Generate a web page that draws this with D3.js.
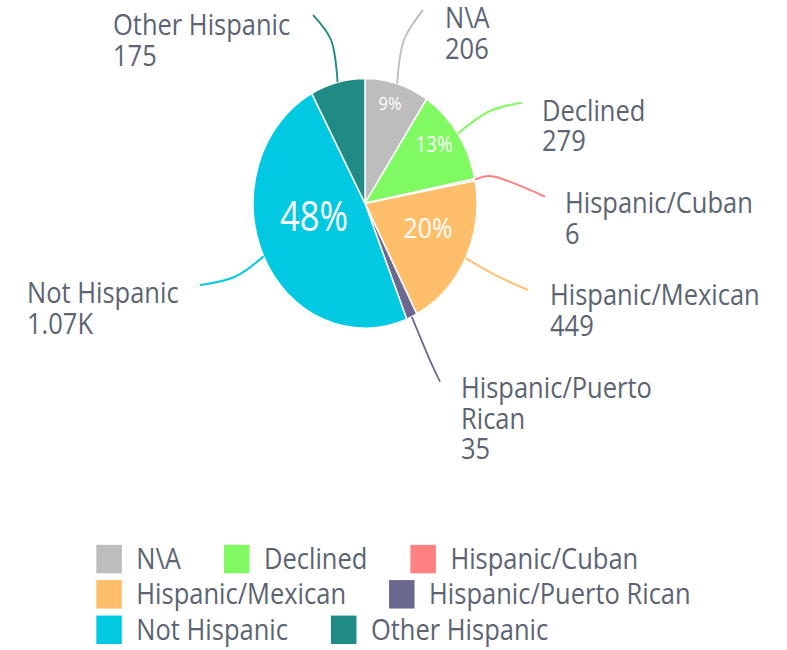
<!DOCTYPE html>
<html>
<head>
<meta charset="utf-8">
<script src="https://cdn.jsdelivr.net/npm/d3@7"></script>
<style>
  html, body { margin: 0; padding: 0; background: #ffffff; }
  svg { display: block; }
  text { font-family: "Open Sans", "Noto Sans", sans-serif; }
</style>
</head>
<body>
<svg id="chart" width="787" height="650"></svg>
<script>
// ---- data ----
const categories = ["N\\A", "Declined", "Hispanic/Cuban", "Hispanic/Mexican", "Hispanic/Puerto Rican", "Not Hispanic", "Other Hispanic"];
const values = [206, 279, 6, 449, 35, 1070, 175];
const valueLabels = ["206", "279", "6", "449", "35", "1.07K", "175"];
const colors = ["#bdbdbd", "#80fa62", "#ff8080", "#ffbe6a", "#6b6890", "#00c9e1", "#208a85"];

// ---- layout constants (unstretched coordinates) ----
const W = 787, H = 650;
const SY = 650 / 582.5;            // vertical stretch of the reference
const cx = 365, cy = 182.2, R = 112;
const textColor = "#5b6470";
const labelFont = 25.5;
const lineH = 27.5;

// outside label placement: left x, first baseline, knee, end
const outLayout = [
  { x: 445, y: 25.1,  knee: [404, 35.8],  end: [423, 9] },
  { x: 542, y: 108.2, knee: [490, 99.5],  end: [521.7, 92] },
  { x: 565, y: 190.9, knee: [490, 157.7], end: [545, 176.3] },
  { x: 550, y: 273.3, knee: [495, 246.4], end: [528, 259.9] },
  { x: 461, y: 356.6, knee: [432, 327],   end: [440, 342] },
  { x: 27,  y: 271.8, knee: [235, 248],   end: [200, 255.4] },
  { x: 113, y: 31.4,  knee: [331, 35.8],  end: [313, 13.4] }
];
// inside percent labels: offset from centre, font size, width
const pctLayout = {
  0: { dx: 25, dy: -89, fs: 16, w: 23 },
  1: { dx: 69, dy: -53.2, fs: 20, w: 37 },
  3: { dx: 63, dy: 22.1, fs: 25, w: 49 },
  5: { dx: -51, dy: 11.3, fs: 37, w: 68 }
};

const svg = d3.select("#chart");
const root = svg.append("g").attr("transform", `scale(1,${SY})`);

const total = d3.sum(values);
const pie = d3.pie().sort(null).value(d => d)(values);
const arc = d3.arc().innerRadius(0).outerRadius(R);

const pieG = root.append("g").attr("transform", `translate(${cx},${cy})`);
pieG.selectAll("path.slice")
  .data(pie)
  .join("path")
  .attr("class", "slice")
  .attr("d", arc)
  .attr("fill", (d, i) => colors[i])
  .attr("stroke", "#ffffff")
  .attr("stroke-width", 1.5);

// leader lines
const lineGen = d3.line().curve(d3.curveCatmullRom.alpha(0.5));
root.selectAll("path.leader")
  .data(pie)
  .join("path")
  .attr("class", "leader")
  .attr("d", (d, i) => {
    const a = (d.startAngle + d.endAngle) / 2;
    const s = [cx + R * Math.sin(a), cy - R * Math.cos(a)];
    const L = outLayout[i];
    return lineGen([s, L.knee, L.end]);
  })
  .attr("fill", "none")
  .attr("stroke", (d, i) => colors[i])
  .attr("stroke-width", 1.8);

// outside labels (name, wrapped, then value) as one text with tspans
const maxLabelW = 235;
root.selectAll("text.outlabel")
  .data(pie)
  .join("text")
  .attr("class", "outlabel")
  .attr("font-size", labelFont)
  .attr("fill", textColor)
  .each(function(d, i) {
    const t = d3.select(this);
    const L = outLayout[i];
    const words = categories[i].split(/(?<=\/)|\s+/);
    const lines = [];
    let cur = "";
    words.forEach(w => {
      const trial = cur === "" ? w : (cur.endsWith("/") ? cur + w : cur + " " + w);
      t.text(trial);
      if (this.getComputedTextLength() > maxLabelW && cur !== "") {
        lines.push(cur);
        cur = w;
      } else cur = trial;
    });
    lines.push(cur);
    lines.push(valueLabels[i]);
    t.text(null);
    lines.forEach((s, k) => {
      t.append("tspan")
        .attr("x", L.x)
        .attr("y", L.y + k * lineH)
        .text(s);
    });
  });

// inside percent labels
const pctFmt = d3.format(".0%");
pieG.selectAll("text.pct")
  .data(pie.filter((d, i) => pctLayout[i] !== undefined))
  .join("text")
  .attr("class", "pct")
  .each(function(d) {
    const i = d.index;
    const P = pctLayout[i];
    d3.select(this)
      .attr("x", P.dx)
      .attr("y", P.dy + 0.357 * P.fs)
      .attr("text-anchor", "middle")
      .attr("font-size", P.fs)
      .attr("fill", "#ffffff")
      .attr("textLength", P.w)
      .attr("lengthAdjust", "spacingAndGlyphs")
      .text(pctFmt(values[i] / total));
  });

// legend (flow layout, centred)
const legendFont = 25.5, sq = 25.5, txtGap = 14.5, itemGap = 43;
const rowY = [501, 532.6, 564.4];
const legendG = root.append("g");
const probe = legendG.append("text").attr("font-size", legendFont);
const widths = categories.map(c => { probe.text(c); return probe.node().getComputedTextLength(); });
probe.remove();
const maxRow = 610;
const rows = [[]];
let rowW = 0;
categories.forEach((c, i) => {
  const w = sq + txtGap + widths[i];
  const add = rows[rows.length - 1].length ? itemGap + w : w;
  if (rowW + add > maxRow && rows[rows.length - 1].length) {
    rows.push([i]);
    rowW = w;
  } else {
    rows[rows.length - 1].push(i);
    rowW += add;
  }
});
const rowWidths = rows.map(r => d3.sum(r, i => sq + txtGap + widths[i]) + itemGap * (r.length - 1));
const left = (W - d3.max(rowWidths)) / 2;
rows.forEach((r, ri) => {
  let x = left;
  r.forEach(i => {
    const item = legendG.append("g");
    item.append("rect")
      .attr("x", x).attr("y", rowY[ri] - sq / 2)
      .attr("width", sq).attr("height", sq)
      .attr("fill", colors[i]);
    item.append("text")
      .attr("x", x + sq + txtGap)
      .attr("y", rowY[ri] + 0.357 * legendFont)
      .attr("font-size", legendFont)
      .attr("fill", textColor)
      .text(categories[i]);
    x += sq + txtGap + widths[i] + itemGap;
  });
});
</script>
</body>
</html>
